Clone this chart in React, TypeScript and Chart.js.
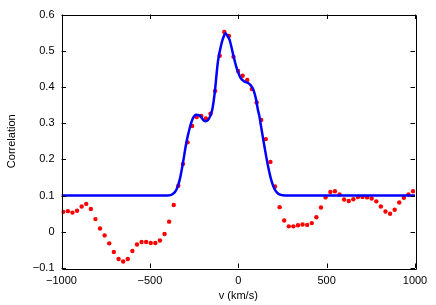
import React, { useEffect, useRef } from "react";
import { Chart, registerables } from "chart.js";

Chart.register(...registerables);

const dotV = [
  -990, -964, -938, -912, -886, -860, -834, -808, -782, -756, -730, -704, -677, -651, -625, -599,
  -573, -547, -521, -495, -469, -443, -417, -391, -365, -339, -313, -287, -261, -235, -209, -183,
  -157, -131, -105, -79, -53, -27, -1, 25, 51, 77, 104, 130, 156, 182, 208, 234, 260, 286, 312,
  338, 364, 390, 416, 442, 468, 494, 521, 547, 573, 599, 625, 651, 677, 703, 729, 755, 781, 807,
  833, 859, 885, 911, 937, 963, 989,
];
const dotCorr = [
  0.055, 0.057, 0.053, 0.058, 0.07, 0.077, 0.063, 0.035, 0.009, -0.01, -0.032, -0.056, -0.075,
  -0.082, -0.075, -0.053, -0.035, -0.028, -0.028, -0.031, -0.031, -0.024, -0.006, 0.028, 0.074,
  0.127, 0.187, 0.247, 0.292, 0.317, 0.32, 0.313, 0.326, 0.389, 0.486, 0.552, 0.541, 0.483, 0.444,
  0.431, 0.419, 0.394, 0.357, 0.309, 0.256, 0.193, 0.125, 0.068, 0.031, 0.015, 0.015, 0.018, 0.02,
  0.019, 0.024, 0.04, 0.067, 0.095, 0.11, 0.112, 0.103, 0.089, 0.085, 0.09, 0.096, 0.096, 0.095,
  0.092, 0.084, 0.07, 0.056, 0.05, 0.061, 0.081, 0.094, 0.103, 0.112,
];

const fitV = [
  -1000, -400, -370, -350, -331, -313, -294, -275, -256, -237, -222, -209, -195, -185, -172, -160,
  -147, -134, -115, -96, -84, -72, -60, -49, -31, -12, 0, 13, 35, 55, 70, 86, 101, 110, 120, 129,
  139, 148, 167, 186, 205, 220, 233, 250, 280, 1000,
];
const fitCorr = [
  0.1, 0.1, 0.104, 0.116, 0.144, 0.19, 0.245, 0.286, 0.314, 0.323, 0.322, 0.316, 0.307, 0.305,
  0.308, 0.318, 0.337, 0.38, 0.47, 0.517, 0.537, 0.548, 0.54, 0.53, 0.494, 0.457, 0.44, 0.425,
  0.415, 0.411, 0.405, 0.392, 0.365, 0.34, 0.318, 0.291, 0.262, 0.236, 0.185, 0.144, 0.118, 0.108,
  0.103, 0.101, 0.1, 0.1,
];

const xTicks = [-1000, -500, 0, 500, 1000];
const yTicks = [-0.1, 0, 0.1, 0.2, 0.3, 0.4, 0.5, 0.6];

const fmt = (v: number) => String(Number(v.toFixed(2))).replace("-", "\u2212");

const boxPlugin = {
  id: "boxTicks",
  afterDraw(chart: any) {
    const { ctx, chartArea: a, scales } = chart;
    const xs = scales.x;
    const ys = scales.y;
    const L = 4.5;
    ctx.save();
    ctx.strokeStyle = "#000";
    ctx.lineWidth = 1;
    ctx.beginPath();
    ctx.rect(Math.round(a.left) + 0.5, Math.round(a.top) + 0.5, Math.round(a.right - a.left), Math.round(a.bottom - a.top));
    for (const t of xTicks) {
      const px = Math.round(xs.getPixelForValue(t)) + 0.5;
      ctx.moveTo(px, a.bottom);
      ctx.lineTo(px, a.bottom - L);
      ctx.moveTo(px, a.top);
      ctx.lineTo(px, a.top + L);
    }
    for (const t of yTicks) {
      const py = Math.round(ys.getPixelForValue(t)) + 0.5;
      ctx.moveTo(a.left, py);
      ctx.lineTo(a.left + L, py);
      ctx.moveTo(a.right, py);
      ctx.lineTo(a.right - L, py);
    }
    ctx.stroke();
    ctx.restore();
  },
};

export default function App() {
  const ref = useRef<HTMLCanvasElement | null>(null);
  useEffect(() => {
    if (!ref.current) return;
    Chart.defaults.font.family = "'Liberation Sans', Arial, sans-serif";
    Chart.defaults.color = "#000";
    const chart = new Chart(ref.current, {
      type: "scatter",
      data: {
        datasets: [
          {
            type: "line",
            label: "fit",
            data: fitV.map((v, i) => ({ x: v, y: fitCorr[i] })),
            borderColor: "#0000ff",
            borderWidth: 2.5,
            pointRadius: 0,
            cubicInterpolationMode: "monotone",
            fill: false,
            order: 1,
          } as any,
          {
            label: "data",
            data: dotV.map((v, i) => ({ x: v, y: dotCorr[i] })),
            backgroundColor: "#ff0000",
            borderColor: "#ff0000",
            borderWidth: 0,
            pointRadius: 2.2,
            order: 2,
          },
        ],
      },
      options: {
        animation: false,
        responsive: true,
        maintainAspectRatio: false,
        layout: { padding: { left: 0, right: 21, top: 14.5, bottom: 0 } },
        plugins: { legend: { display: false }, tooltip: { enabled: false } },
        scales: {
          x: {
            type: "linear",
            min: -1000,
            max: 1000,
            grid: { display: false, drawTicks: false },
            border: { display: false },
            afterBuildTicks: (s: any) => {
              s.ticks = xTicks.map((v) => ({ value: v }));
            },
            afterFit: (s: any) => {
              s.height = 37;
            },
            ticks: {
              autoSkip: false,
              maxRotation: 0,
              padding: 6,
              font: { size: 11 },
              callback: (v: any) => fmt(Number(v)),
            },
            title: {
              display: true,
              text: "v (km/s)",
              font: { size: 11 },
              padding: { top: 0, bottom: 2 },
            },
          },
          y: {
            type: "linear",
            min: -0.1,
            max: 0.6,
            grid: { display: false, drawTicks: false },
            border: { display: false },
            afterBuildTicks: (s: any) => {
              s.ticks = yTicks.map((v) => ({ value: v }));
            },
            afterFit: (s: any) => {
              s.width = 61.5;
            },
            ticks: {
              autoSkip: false,
              padding: 7,
              font: { size: 11 },
              callback: (v: any) => fmt(Number(v)),
            },
            title: {
              display: true,
              text: "Correlation",
              font: { size: 11 },
              padding: 5,
            },
          },
        },
      },
      plugins: [boxPlugin],
    });
    return () => chart.destroy();
  }, []);
  return (
    <div style={{ position: "absolute", left: 0, top: 0, width: 436, height: 305, background: "#fff" }}>
      <canvas ref={ref} />
    </div>
  );
}
